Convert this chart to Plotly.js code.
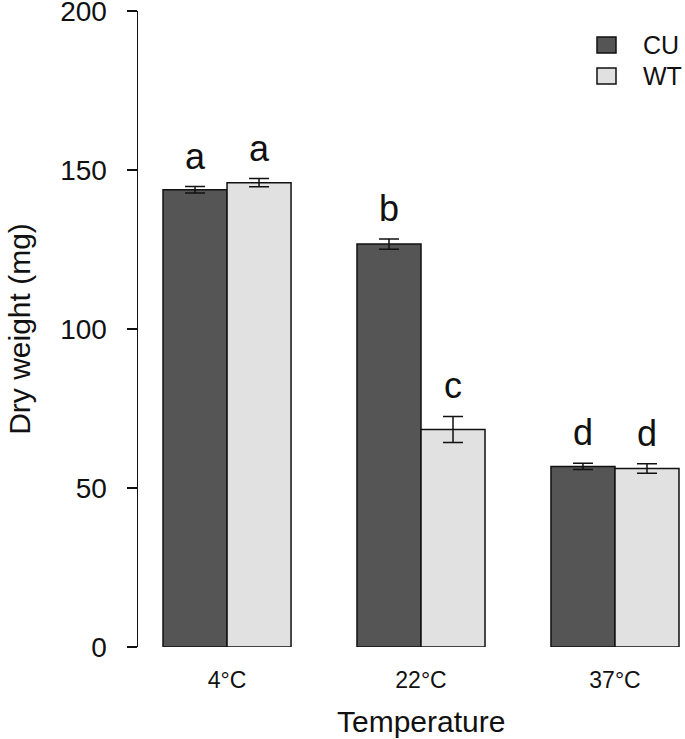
<!DOCTYPE html>
<html>
<head>
<meta charset="utf-8">
<script src="https://cdn.plot.ly/plotly-3.0.1.min.js"></script>
<style>html,body{margin:0;padding:0;background:#fff;}#chart{width:685px;height:739px;}</style>
</head>
<body>
<div id="chart"></div>
<script>
// Data
const categories = ['4°C', '22°C', '37°C'];
const seriesNames = ['CU', 'WT'];
const cuValues = [143.8, 126.7, 56.8];
const wtValues = [146.0, 68.4, 56.1];
const cuErrors = [1.0, 1.6, 1.0];
const wtErrors = [1.3, 4.1, 1.5];
const cuLetters = ['a', 'b', 'd'];
const wtLetters = ['a', 'c', 'd'];
const yTicks = [0, 50, 100, 150, 200];

const FONT = 'Liberation Sans, Arial, Helvetica, sans-serif';
const darkFill = '#555555';
const lightFill = '#e1e1e1';
const bargap = 0.34;

// plot geometry (pixels)
const W = 685, H = 739;
const mL = 138, mR = 0, mT = 11, mB = 92;
const plotW = W - mL - mR, plotH = H - mT - mB;
const px2paperX = px => (px - mL) / plotW;
const px2paperY = py => (H - mB - py) / plotH;

const traces = [
  {
    type: 'bar', name: seriesNames[0], x: categories, y: cuValues,
    marker: {color: darkFill, line: {color: '#111', width: 1.5}},
    error_y: {type: 'data', array: cuErrors, visible: true, color: '#111', thickness: 1.5, width: 10},
    showlegend: false
  },
  {
    type: 'bar', name: seriesNames[1], x: categories, y: wtValues,
    marker: {color: lightFill, line: {color: '#111', width: 1.5}},
    error_y: {type: 'data', array: wtErrors, visible: true, color: '#111', thickness: 1.5, width: 10},
    showlegend: false
  }
];

const off = (1 - bargap) / 4;
const annotations = [];
categories.forEach((c, i) => {
  annotations.push({x: i - off, y: cuValues[i] + cuErrors[i], xref: 'x', yref: 'y', text: cuLetters[i],
    showarrow: false, yanchor: 'bottom', yshift: 8, font: {family: FONT, size: 36, color: '#111'}});
  annotations.push({x: i + off, y: wtValues[i] + wtErrors[i], xref: 'x', yref: 'y', text: wtLetters[i],
    showarrow: false, yanchor: 'bottom', yshift: 8, font: {family: FONT, size: 36, color: '#111'}});
});

// x axis title
annotations.push({x: 1, xref: 'x', y: px2paperY(721), yref: 'paper', text: 'Temperature', showarrow: false,
  yanchor: 'middle', xanchor: 'center', font: {family: FONT, size: 30, color: '#111'}});

// manual legend
const legendItems = [
  {name: seriesNames[0], fill: darkFill, y0: 37, y1: 53, ty: 45},
  {name: seriesNames[1], fill: lightFill, y0: 68, y1: 84, ty: 76}
];
const shapes = [];
legendItems.forEach(it => {
  shapes.push({type: 'rect', xref: 'paper', yref: 'paper', x0: px2paperX(597), x1: px2paperX(616),
    y0: px2paperY(it.y1), y1: px2paperY(it.y0), fillcolor: it.fill, line: {color: '#111', width: 1.5}});
  annotations.push({x: px2paperX(641), y: px2paperY(it.ty), xref: 'paper', yref: 'paper', text: it.name,
    showarrow: false, xanchor: 'left', yanchor: 'middle', font: {family: FONT, size: 25, color: '#111'}});
});

const layout = {
  width: W, height: H,
  margin: {l: mL, r: mR, t: mT, b: mB, pad: 0},
  paper_bgcolor: '#fff', plot_bgcolor: '#fff',
  barmode: 'group', bargap: bargap, bargroupgap: 0,
  showlegend: false,
  font: {family: FONT, color: '#111'},
  xaxis: {
    type: 'category', range: [-0.459, 2.361], showgrid: false, zeroline: false, showline: false,
    ticks: '', tickfont: {family: FONT, size: 23, color: '#111'}, ticklabelstandoff: 17, fixedrange: true
  },
  yaxis: {
    range: [0, 200], tickvals: yTicks, ticktext: yTicks.map(String),
    showgrid: false, zeroline: false, showline: true, linecolor: '#111', linewidth: 1.5,
    ticks: 'outside', ticklen: 10, tickwidth: 1.5, tickcolor: '#111',
    tickfont: {family: FONT, size: 28, color: '#111'}, ticklabelstandoff: 14, ticklabeloverflow: 'allow',
    title: {text: 'Dry weight (mg)', font: {family: FONT, size: 30, color: '#111'}, standoff: 20},
    automargin: false, fixedrange: true
  },
  annotations: annotations,
  shapes: shapes
};

Plotly.newPlot('chart', traces, layout, {staticPlot: true, displayModeBar: false});
</script>
</body>
</html>
